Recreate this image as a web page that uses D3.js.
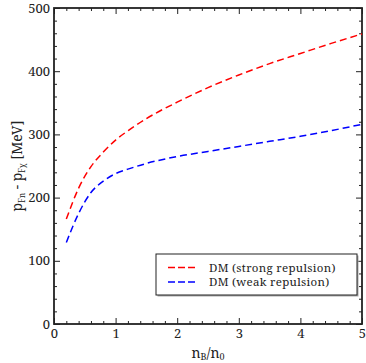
<!DOCTYPE html>
<html>
<head>
<meta charset="utf-8">
<script src="https://cdn.jsdelivr.net/npm/d3@7"></script>
<style>
  body { margin: 0; background: #fff; }
  svg text { font-family: "Noto Serif", "DejaVu Serif", serif !important; fill: #222; }
</style>
</head>
<body>
<div id="chart"></div>
<script>
// data
var xStrong = [0.2, 0.4, 0.6, 0.8, 1.0, 1.25, 1.5, 2.0, 2.5, 3.0, 3.5, 4.0, 4.5, 5.0];
var yStrong = [166, 215, 249, 272, 291, 309, 325, 351, 374, 394, 412, 428, 444, 459];
var xWeak = [0.2, 0.4, 0.6, 0.8, 1.0, 1.2, 1.5, 2.0, 2.5, 3.0, 3.5, 4.0, 4.5, 5.0];
var yWeak = [129, 175, 208, 226, 238, 245, 254, 265, 273, 281, 289, 297, 306, 316];
var seriesNames = ["DM (strong repulsion)", "DM (weak repulsion)"];
var seriesColors = ["#ff0000", "#0000ff"];
var xTicks = [0, 1, 2, 3, 4, 5];
var yTicks = [0, 100, 200, 300, 400, 500];

// size
var svgBGW = 366, svgBGH = 363;
var margin = {top: 8, right: 4, bottom: 39, left: 54};
var svgW = svgBGW - margin.left - margin.right;
var svgH = svgBGH - margin.top - margin.bottom;

var svgBG = d3.select("#chart").append("svg").attr("width", svgBGW).attr("height", svgBGH);
var svg = svgBG.append("g").attr("transform", "translate(" + margin.left + "," + margin.top + ")");

var xScale = d3.scaleLinear().domain([0, 5]).range([0, svgW]);
var yScale = d3.scaleLinear().domain([0, 500]).range([svgH, 0]);

var xMinor = d3.range(0, 5.001, 0.2).filter(function(d) { return Math.abs(d - Math.round(d)) > 1e-6; });
var yMinor = d3.range(0, 501, 20).filter(function(d) { return d % 100 != 0; });

function styleAxis(g) {
    g.select(".domain").remove();
    g.selectAll(".tick line").attr("stroke", "#222").attr("stroke-width", 1);
}

// bottom axis with labels
svg.append("g")
    .attr("transform", "translate(0," + svgH + ")")
    .call(d3.axisBottom(xScale).tickValues(xTicks).tickSize(-6).tickPadding(5).tickFormat(d3.format("d")))
    .call(styleAxis)
    .selectAll("text").attr("font-size", 13);
svg.append("g")
    .attr("transform", "translate(0," + svgH + ")")
    .call(d3.axisBottom(xScale).tickValues(xMinor).tickSize(-3).tickFormat(""))
    .call(styleAxis);
// top axis
svg.append("g")
    .call(d3.axisTop(xScale).tickValues(xTicks).tickSize(-6).tickFormat(""))
    .call(styleAxis);
svg.append("g")
    .call(d3.axisTop(xScale).tickValues(xMinor).tickSize(-3).tickFormat(""))
    .call(styleAxis);
// left axis with labels
svg.append("g")
    .call(d3.axisLeft(yScale).tickValues(yTicks).tickSize(-6).tickPadding(4).tickFormat(d3.format("d")))
    .call(styleAxis)
    .selectAll("text").attr("font-size", 13);
svg.append("g")
    .call(d3.axisLeft(yScale).tickValues(yMinor).tickSize(-3).tickFormat(""))
    .call(styleAxis);
// right axis
svg.append("g")
    .attr("transform", "translate(" + svgW + ",0)")
    .call(d3.axisRight(yScale).tickValues(yTicks).tickSize(-6).tickFormat(""))
    .call(styleAxis);
svg.append("g")
    .attr("transform", "translate(" + svgW + ",0)")
    .call(d3.axisRight(yScale).tickValues(yMinor).tickSize(-3).tickFormat(""))
    .call(styleAxis);

// frame
svg.append("rect")
    .attr("x", 0).attr("y", 0).attr("width", svgW).attr("height", svgH)
    .attr("fill", "none").attr("stroke", "#222").attr("stroke-width", 1.8);

// lines
var line = d3.line()
    .curve(d3.curveMonotoneX)
    .x(function(d) { return xScale(d[0]); })
    .y(function(d) { return yScale(d[1]); });

var series = [d3.zip(xStrong, yStrong), d3.zip(xWeak, yWeak)];
svg.selectAll(".curve")
    .data(series)
    .enter().append("path")
    .attr("class", "curve")
    .attr("d", line)
    .attr("fill", "none")
    .attr("stroke", function(d, i) { return seriesColors[i]; })
    .attr("stroke-width", 1.5)
    .attr("stroke-dasharray", "7,4");

// legend
var legX = 156 - margin.left, legY = 254 - margin.top;
svg.append("rect")
    .attr("x", legX + 1.5).attr("y", legY + 1.5).attr("width", 201).attr("height", 41)
    .attr("fill", "#aaa");
svg.append("rect")
    .attr("x", legX).attr("y", legY).attr("width", 201).attr("height", 41)
    .attr("fill", "#fff").attr("stroke", "#222").attr("stroke-width", 1);

var leg = svg.selectAll(".leg")
    .data(seriesNames)
    .enter().append("g")
    .attr("class", "leg")
    .attr("transform", function(d, i) { return "translate(" + legX + "," + (legY + 13.5 + i * 14.5) + ")"; });
leg.append("line")
    .attr("x1", 12).attr("x2", 39)
    .attr("stroke", function(d, i) { return seriesColors[i]; })
    .attr("stroke-width", 1.5)
    .attr("stroke-dasharray", "7,3");
leg.append("text")
    .attr("x", 53).attr("dy", "0.35em")
    .attr("font-size", 11.5)
    .attr("letter-spacing", 0.3)
    .text(function(d) { return d; });

// axis titles
var xt = svg.append("text")
    .attr("x", svgW / 2).attr("y", svgH + 34)
    .attr("text-anchor", "middle")
    .attr("font-size", 14);
xt.append("tspan").text("n");
xt.append("tspan").attr("font-size", 9).attr("dy", 2).text("B");
xt.append("tspan").attr("dy", -2).text("/n");
xt.append("tspan").attr("font-size", 9).attr("dy", 2).text("0");

var yt = svg.append("text")
    .attr("transform", "translate(" + (22 - margin.left) + "," + (svgH / 2) + ") rotate(-90)")
    .attr("text-anchor", "middle")
    .attr("font-size", 14);
yt.append("tspan").text("p");
yt.append("tspan").attr("font-size", 8).attr("dy", 3).text("Fn");
yt.append("tspan").attr("dy", -3).text(" - p");
yt.append("tspan").attr("font-size", 8).attr("dy", 3).text("Fχ");
yt.append("tspan").attr("dy", -3).text(" [MeV]");
</script>
</body>
</html>
